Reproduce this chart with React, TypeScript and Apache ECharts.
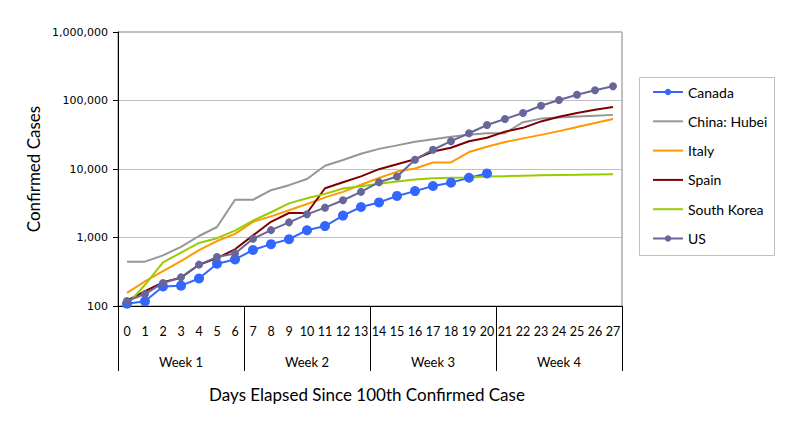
import React, { useEffect, useRef } from "react";
import * as echarts from "echarts";

const days = Array.from({ length: 28 }, (_, i) => String(i));
const weeks = ["Week 1", "Week 2", "Week 3", "Week 4"];
const yTicks = [100, 1000, 10000, 100000, 1000000];

const canada = [108, 117, 193, 198, 252, 415, 478, 657, 800, 943, 1277, 1469, 2088, 2790, 3251, 4042, 4757, 5655, 6320, 7448, 8612];
const hubei = [444, 444, 549, 729, 1052, 1423, 3554, 3554, 4903, 5806, 7153, 11177, 13522, 16678, 19665, 22112, 24953, 27100, 29631, 31728, 33366, 33366, 48206, 54406, 56249, 58182, 59989, 61682];
const italy = [155, 229, 322, 453, 655, 888, 1128, 1694, 2036, 2502, 3089, 3858, 4636, 5883, 7375, 9172, 10149, 12462, 12462, 17660, 21157, 24747, 27980, 31506, 35713, 41035, 47021, 53578];
const spain = [120, 165, 222, 259, 400, 500, 673, 1073, 1695, 2277, 2277, 5232, 6391, 7798, 9942, 11748, 13910, 17963, 20410, 25374, 28603, 35136, 39885, 49515, 57786, 65719, 73235, 80110];
const korea = [104, 204, 433, 602, 833, 977, 1261, 1766, 2337, 3150, 3736, 4335, 5186, 5621, 6088, 6593, 7041, 7314, 7478, 7513, 7755, 7869, 7979, 8086, 8162, 8236, 8320, 8413];
const us = [118, 149, 217, 262, 402, 518, 583, 959, 1281, 1663, 2179, 2726, 3499, 4632, 6421, 7783, 13677, 19100, 25489, 33276, 43847, 53740, 65778, 83836, 101657, 121478, 140886, 161807];

const seriesNames = ["Canada", "China: Hubei", "Italy", "Spain", "South Korea", "US"];
const markerSeries = ["Canada", "US"];

const FONT = "Lato, 'Open Sans', sans-serif";

export default function App() {
  const ref = useRef<HTMLDivElement>(null);
  useEffect(() => {
    if (!ref.current) return;
    const chart = echarts.init(ref.current, undefined, { renderer: "svg" });
    const lineSeries = (name: string, data: number[], color: string, extra: any = {}) => ({
      name,
      type: "line",
      data,
      xAxisIndex: 0,
      yAxisIndex: 0,
      symbol: "none",
      lineStyle: { color, width: 2 },
      itemStyle: { color },
      ...extra,
    });
    chart.setOption({
      animation: false,
      backgroundColor: "#ffffff",
      grid: {
        left: 118,
        top: 32,
        right: 176,
        bottom: 115,
        show: true,
        borderColor: "#808080",
        borderWidth: 1,
        containLabel: false,
      },
      xAxis: [
        {
          type: "category",
          data: days,
          boundaryGap: true,
          position: "bottom",
          axisLine: { show: true, lineStyle: { color: "#000000", width: 1 } },
          axisTick: { show: false },
          axisLabel: { interval: 0, color: "#000", fontFamily: FONT, fontSize: 12.5, margin: 19 },
          splitLine: { show: false },
        },
        {
          type: "category",
          data: weeks,
          boundaryGap: true,
          position: "bottom",
          gridIndex: 0,
          axisLine: { show: false },
          axisTick: { show: true, length: 65, interval: 0, lineStyle: { color: "#000000", width: 1 } },
          axisLabel: { interval: 0, color: "#000", fontFamily: FONT, fontSize: 13, margin: 49 },
          splitLine: { show: false },
        },
      ],
      yAxis: {
        type: "log",
        logBase: 10,
        min: yTicks[0],
        max: yTicks[yTicks.length - 1],
        axisLine: { show: true, lineStyle: { color: "#000000", width: 1 } },
        axisTick: { show: true, length: 5, lineStyle: { color: "#000000" } },
        axisLabel: {
          color: "#000",
          fontFamily: "'DejaVu Sans', sans-serif",
          fontSize: 11,
          margin: 10,
          formatter: (v: number) => Math.round(v).toLocaleString("en-US"),
        },
        splitLine: { show: true, lineStyle: { color: "#c0c0c0", width: 1 } },
      },
      legend: {
        orient: "vertical",
        left: 652,
        top: 85,
        itemWidth: 30,
        itemHeight: 8,
        itemGap: 15.3,
        padding: 0,
        textStyle: { fontFamily: FONT, fontSize: 14, color: "#000", lineHeight: 14 },
        data: seriesNames.map((n) =>
          markerSeries.includes(n) ? { name: n } : { name: n, itemStyle: { opacity: 0 } }
        ),
      },
      graphic: [
        {
          type: "rect",
          shape: { x: 639.5, y: 77.5, width: 135, height: 178 },
          style: { fill: "none", stroke: "#c0c0c0", lineWidth: 1 },
          silent: true,
        },
        {
          type: "text",
          x: 33,
          y: 169,
          rotation: Math.PI / 2,
          style: {
            text: "Confirmed Cases",
            fontFamily: FONT,
            fontSize: 17,
            fill: "#000",
            align: "center",
            verticalAlign: "middle",
          },
        },
        {
          type: "text",
          x: 367,
          y: 394,
          style: {
            text: "Days Elapsed Since 100th Confirmed Case",
            fontFamily: FONT,
            fontSize: 17,
            fill: "#000",
            align: "center",
            verticalAlign: "middle",
          },
        },
      ],
      series: [
        lineSeries("Canada", canada, "#3366FF", { symbol: "circle", symbolSize: 10, showSymbol: true }),
        lineSeries("China: Hubei", hubei, "#969696"),
        lineSeries("Italy", italy, "#FF9900"),
        lineSeries("Spain", spain, "#800000"),
        lineSeries("South Korea", korea, "#99CC00"),
        lineSeries("US", us, "#666699", { symbol: "circle", symbolSize: 8, showSymbol: true }),
      ],
    });
    return () => chart.dispose();
  }, []);
  return (
    <div
      ref={ref}
      style={{ position: "fixed", left: 0, top: 0, width: 798, height: 421, background: "#fff" }}
    />
  );
}
